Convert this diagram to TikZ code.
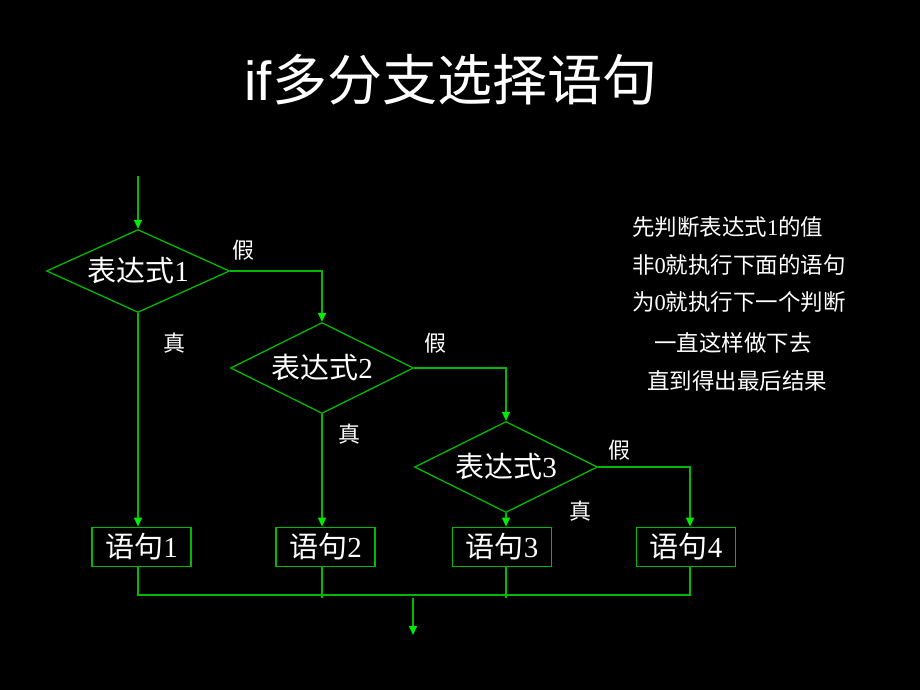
\documentclass[tikz,border=0pt]{standalone}
\usepackage{fontspec}
\setmainfont{Liberation Serif}
\newfontfamily\cjk{Noto Sans CJK SC}
\newfontfamily\arialfont{Liberation Sans}
\usetikzlibrary{shapes.geometric,arrows.meta}
\definecolor{lgreen}{RGB}{0,185,0}
\definecolor{tipgreen}{RGB}{0,235,0}
\newcommand\zh[1]{{\cjk #1}}
\begin{document}
\begin{tikzpicture}
[x=1pt,y=-1pt,>={Triangle[width=8pt,length=9pt,color=tipgreen]},
cond/.style = {draw=lgreen, line width=1.3pt, shape=diamond, aspect=2.2, inner sep=0pt, minimum width=183pt, text=white, font=\fontsize{29}{29}\selectfont},
stmt/.style = {draw=lgreen, line width=1.8pt, rectangle, minimum width=99pt, minimum height=39pt, inner sep=0pt, text=white, font=\fontsize{29}{29}\selectfont},
lab/.style = {text=white, inner sep=0pt, font=\fontsize{22}{22}\selectfont\cjk},
note/.style = {text=white, inner sep=0pt, font=\fontsize{22.5}{22.5}\selectfont},
flow/.style = {draw=lgreen, line width=1.4pt},]

\fill [black] (0,0) rectangle (920,690);
\node (title) at (451,80)[text=white,inner sep=0pt,font=\fontsize{55}{55}\selectfont] {{\arialfont if}\zh{多分支选择语句}};

% decisions
\node (d1) at (138,271)[cond,minimum height=83pt] {\zh{表达式}1};
\node (d2) at (322,368)[cond,minimum height=91pt] {\zh{表达式}2};
\node (d3) at (506,467)[cond,minimum height=91pt] {\zh{表达式}3};

% statements
\node (s1) at (141.5,547)[stmt] {\zh{语句}1};
\node (s2) at (325.5,547)[stmt] {\zh{语句}2};
\node (s3) at (502,547)[stmt] {\zh{语句}3};
\node (s4) at (686,547)[stmt] {\zh{语句}4};

\coordinate (in) at (138,176);
\coordinate (jn) at (0,595);
\coordinate (out1) at (413,598);
\coordinate (out2) at (413,635);

\draw [flow,->] (in)--(d1.north);
\draw [flow,->] (d1.east) -| (d2.north);
\draw [flow,->] (d2.east) -| (d3.north);
\draw [flow,->] (d3.east) -| ([xshift=4pt]s4.north);
\draw [flow,->] (d1.south)--(d1.south |- s1.north);
\draw [flow,->] (d2.south)--(d2.south |- s2.north);
\draw [flow,->] (d3.south)--(d3.south |- s3.north);

\draw [flow] (d1.south |- s1.south) |- ([xshift=4pt]s4.south |- jn) -- ([xshift=4pt]s4.south);
\draw [flow] (d2.south |- s2.south)--(d2.south |- out1);
\draw [flow] (d3.south |- s3.south)--(d3.south |- out1);
\draw [flow,->] (out1)--(out2);

% branch labels
\node (f1) at (243,250)[lab] {假};
\node (f2) at (435,343)[lab] {假};
\node (f3) at (619,450)[lab] {假};
\node (t1) at (174,343)[lab] {真};
\node (t2) at (349,434)[lab] {真};
\node (t3) at (580,511)[lab] {真};

% explanation
\node (n1) at (632,227)[note,anchor=west] {\zh{先判断表达式}1\zh{的值}};
\node (n2) at (632,265)[note,anchor=west] {\zh{非}0\zh{就执行下面的语句}};
\node (n3) at (632,302)[note,anchor=west] {\zh{为}0\zh{就执行下一个判断}};
\node (n4) at (733,343)[note] {\zh{一直这样做下去}};
\node (n5) at (737,381)[note] {\zh{直到得出最后结果}};

\end{tikzpicture}
\end{document}
